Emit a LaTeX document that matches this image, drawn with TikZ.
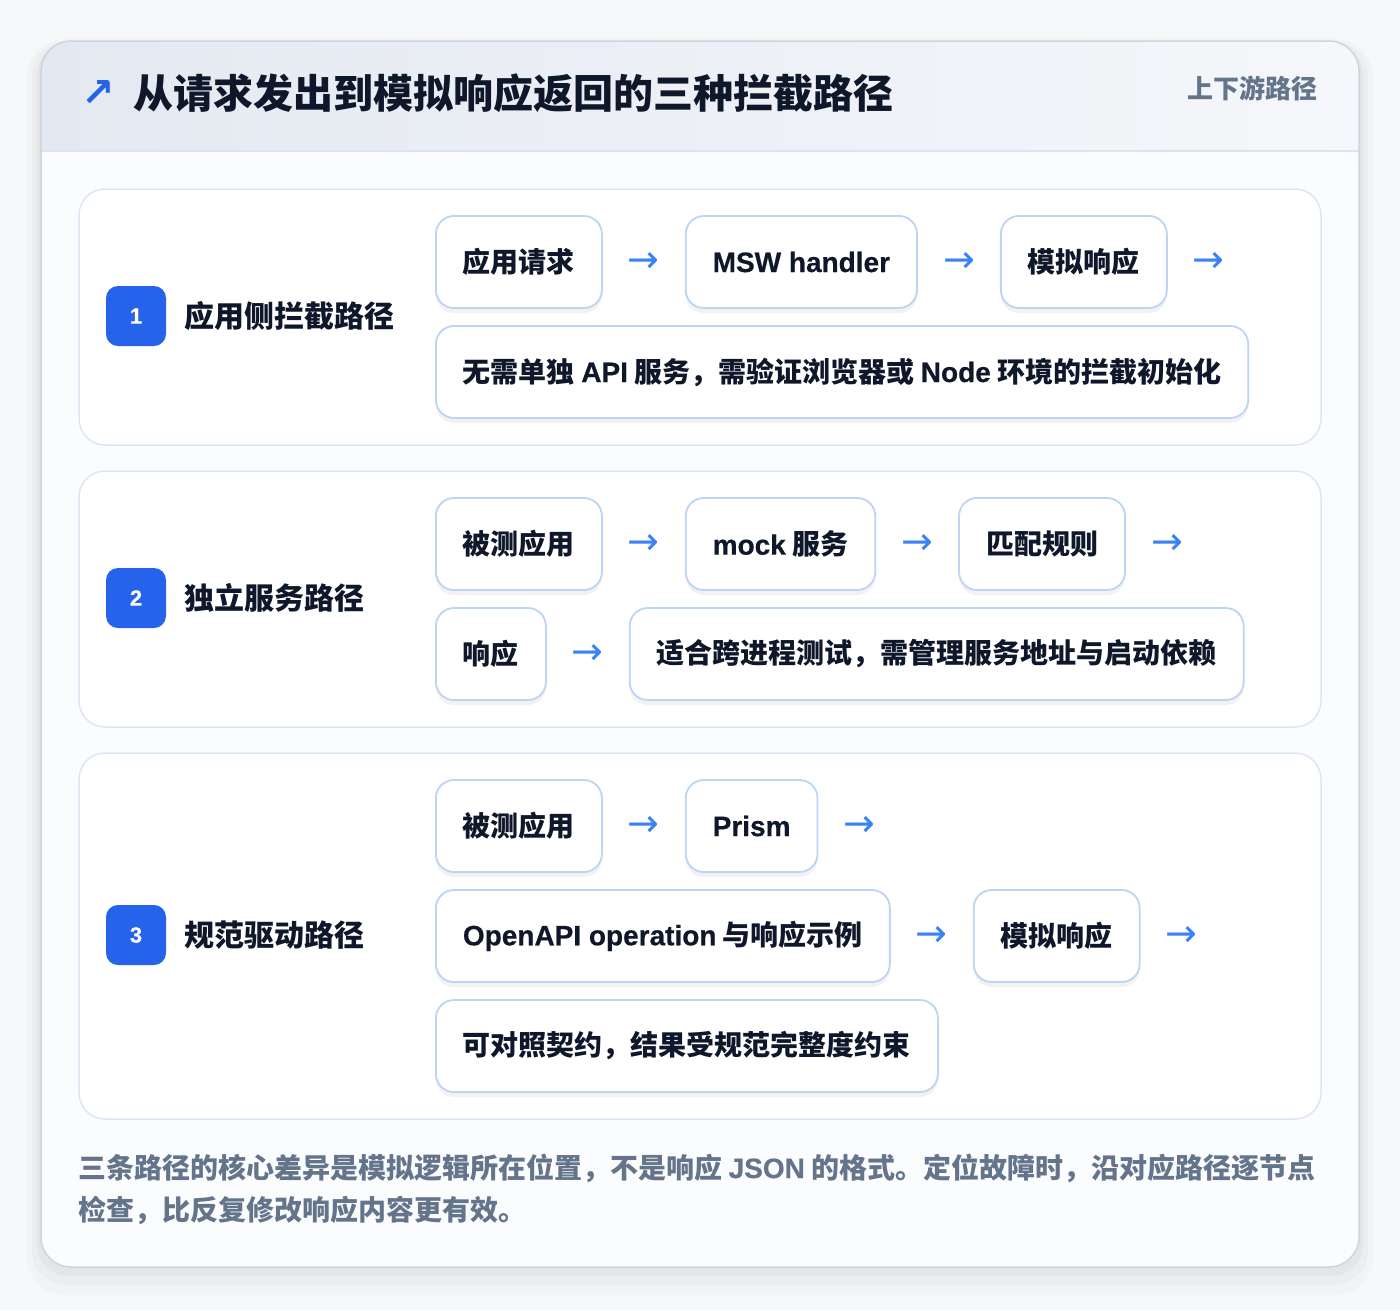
\documentclass[tikz,border=0pt]{standalone}
\usepackage{fontspec}
\setmainfont{Noto Sans CJK SC}
\newfontfamily\lat{Liberation Sans Bold}[FakeBold=0.5]
\newfontfamily\sym{DejaVu Sans}
\newfontfamily\symb{DejaVu Sans Bold}
\usetikzlibrary{positioning,shadows}

\definecolor{pagebg}{HTML}{F7F8FA}
\definecolor{cardline}{HTML}{CDD5E0}
\definecolor{headleft}{HTML}{E4E9F1}
\definecolor{headright}{HTML}{F5F7FA}
\definecolor{headline}{HTML}{DAE5F3}
\definecolor{bodyfill}{HTML}{FBFCFE}
\definecolor{panelline}{HTML}{DCE7F6}
\definecolor{boxline}{HTML}{BDD5F5}
\definecolor{badgeblue}{HTML}{2563EB}
\definecolor{flowblue}{HTML}{3B82F6}
\definecolor{ink}{HTML}{0F172A}
\definecolor{muted}{HTML}{64748B}

\newcommand{\boxfont}{\fontsize{28}{34}\selectfont\bfseries}

\tikzset{
  panel/.style={draw=panelline, line width=1.5pt, fill=white, rounded corners=26pt},
  stepbox/.style={draw=boxline, line width=1.8pt, fill=white, rounded corners=18pt,
    minimum height=92pt, inner xsep=27pt, inner ysep=0pt, font=\boxfont, text=ink,
    drop shadow={shadow xshift=0pt, shadow yshift=-5pt, opacity=0.05, fill=black}},
  flow/.style={font=\sym\fontsize{38}{38}\selectfont, text=flowblue, inner sep=0pt},
  badge/.style={fill=badgeblue, rounded corners=12pt, minimum size=60pt, inner sep=0pt,
    text=white, font=\lat\fontsize{22}{22}\selectfont},
  pathname/.style={font=\bfseries\fontsize{30}{36}\selectfont, text=ink, inner sep=0pt},
  note/.style={font=\bfseries\fontsize{28}{34}\selectfont, text=muted, inner sep=0pt, anchor=base west},
}

\begin{document}
\begin{tikzpicture}[x=1pt,y=-1pt]
\useasboundingbox (0,0) rectangle (1400,1310);
\fill[pagebg] (0,0) rectangle (1400,1310);

% card with soft shadow
\fill[black, opacity=0.02, rounded corners=38pt] (27,39) rectangle (1373,1295);
\fill[black, opacity=0.025, rounded corners=34pt] (32,42) rectangle (1368,1285);
\fill[black, opacity=0.03, rounded corners=31pt] (37,44) rectangle (1363,1276);
\fill[bodyfill, rounded corners=30pt] (41,41) rectangle (1359,1267);
\begin{scope}
  \clip[rounded corners=30pt] (41,41) rectangle (1359,1267);
  \shade[left color=headleft, right color=headright] (41,41) rectangle (1359,151);
\end{scope}
\draw[headline, line width=1.5pt] (41,151) -- (1359,151);
\draw[cardline, line width=1.5pt, rounded corners=30pt] (41,41) rectangle (1359,1267);

% header
\node[font=\symb\fontsize{40}{40}\selectfont, text=badgeblue, inner sep=0pt] (icon) at (98,93) {↗};
\node[anchor=west, inner sep=0pt, font=\bfseries\fontsize{40}{48}\selectfont, text=ink] (title) at (133,93) {从请求发出到模拟响应返回的三种拦截路径};
\node[anchor=east, inner sep=0pt, font=\bfseries\fontsize{26}{30}\selectfont, text=muted] (tag) at (1318,88) {上下游路径};

% path 1
\draw[panel] (79,189) rectangle (1321,445);
\node[badge] (b1) at (136,316) {1};
\node[pathname, right=18pt of b1] (l1) {应用侧拦截路径};
\node[stepbox, anchor=west] (s11) at (435,262) {应用请求};
\node[flow] (f11) at ([xshift=41pt]s11.east) {→};
\node[stepbox, right=82pt of s11] (s12) {{\lat MSW handler}};
\node[flow] (f12) at ([xshift=41pt]s12.east) {→};
\node[stepbox, right=82pt of s12] (s13) {模拟响应};
\node[flow] (f13) at ([xshift=41pt]s13.east) {→};
\node[stepbox, anchor=west] (s14) at (435,372) {无需单独 {\lat API} 服务，需验证浏览器或 {\lat Node} 环境的拦截初始化};

% path 2
\draw[panel] (79,471) rectangle (1321,727);
\node[badge] (b2) at (136,598) {2};
\node[pathname, right=18pt of b2] (l2) {独立服务路径};
\node[stepbox, anchor=west] (s21) at (435,544) {被测应用};
\node[flow] (f21) at ([xshift=41pt]s21.east) {→};
\node[stepbox, right=82pt of s21] (s22) {{\lat mock} 服务};
\node[flow] (f22) at ([xshift=41pt]s22.east) {→};
\node[stepbox, right=82pt of s22] (s23) {匹配规则};
\node[flow] (f23) at ([xshift=41pt]s23.east) {→};
\node[stepbox, anchor=west] (s24) at (435,654) {响应};
\node[flow] (f24) at ([xshift=41pt]s24.east) {→};
\node[stepbox, right=82pt of s24] (s25) {适合跨进程测试，需管理服务地址与启动依赖};

% path 3
\draw[panel] (79,753) rectangle (1321,1119);
\node[badge] (b3) at (136,935) {3};
\node[pathname, right=18pt of b3] (l3) {规范驱动路径};
\node[stepbox, anchor=west] (s31) at (435,826) {被测应用};
\node[flow] (f31) at ([xshift=41pt]s31.east) {→};
\node[stepbox, right=82pt of s31] (s32) {{\lat Prism}};
\node[flow] (f32) at ([xshift=41pt]s32.east) {→};
\node[stepbox, anchor=west] (s33) at (435,936) {{\lat OpenAPI operation} 与响应示例};
\node[flow] (f33) at ([xshift=41pt]s33.east) {→};
\node[stepbox, right=82pt of s33] (s34) {模拟响应};
\node[flow] (f34) at ([xshift=41pt]s34.east) {→};
\node[stepbox, anchor=west] (s35) at (435,1046) {可对照契约，结果受规范完整度约束};

% footer note
\node[note] (n1) at (78,1178) {三条路径的核心差异是模拟逻辑所在位置，不是响应 {\lat JSON} 的格式。定位故障时，沿对应路径逐节点};
\node[note] (n2) at ([yshift=-42pt]n1.base west) {检查，比反复修改响应内容更有效。};
\end{tikzpicture}
\end{document}
